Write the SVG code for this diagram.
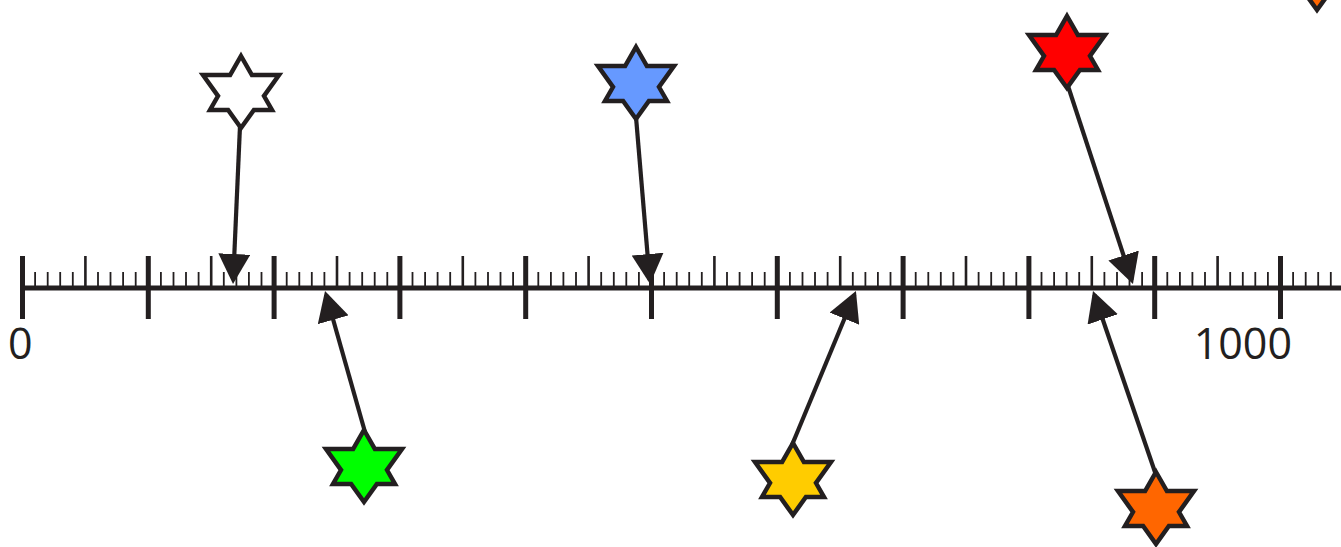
<svg xmlns="http://www.w3.org/2000/svg" xmlns:xlink="http://www.w3.org/1999/xlink" width="1341" height="547" viewBox="0 0 1341 547">
<style>
.star{stroke:#231f20;stroke-width:4.5;stroke-linejoin:miter;stroke-miterlimit:10}
.conn{stroke:#231f20;stroke-width:4.2;fill:none;marker-end:url(#ah)}
.axis{stroke:#231f20;fill:none}
.lbl{font-family:"Open Sans","Liberation Sans",sans-serif;font-size:43px;fill:#231f20}
</style>
<defs>
<path id="star" d="M0,-36 L10.9,-17 L38,-17 L23,4 L31,18 L12.9,18 L0,36 L-12.9,18 L-31,18 L-23,4 L-38,-17 L-10.9,-17 Z"/>
<marker id="ah" viewBox="0 0 30 32" refX="26" refY="16" markerWidth="30" markerHeight="32" markerUnits="userSpaceOnUse" orient="auto">
<path d="M0,0 L30,16 L0,32 Z" fill="#231f20"/>
</marker>
</defs>
<g id="axis">
<line class="axis" x1="20" y1="288" x2="1341" y2="288" stroke-width="5"/>
<path class="axis" stroke-width="5" d="M22.5,256V319M148.3,256V319M274.1,256V319M399.9,256V319M525.7,256V319M651.5,256V319M777.3,256V319M903.1,256V319M1028.9,256V319M1154.7,256V319M1280.5,256V319"/>
<path class="axis" stroke-width="2.6" d="M85.4,256V288M211.2,256V288M337,256V288M462.8,256V288M588.6,256V288M714.4,256V288M840.2,256V288M966,256V288M1091.8,256V288M1217.6,256V288"/>
<path class="axis" stroke-width="1.8" d="M35.1,272V288M47.7,272V288M60.2,272V288M72.8,272V288M98,272V288M110.5,272V288M123.1,272V288M135.7,272V288M160.9,272V288M173.5,272V288M186,272V288M198.6,272V288M223.8,272V288M236.4,272V288M248.9,272V288M261.5,272V288M286.7,272V288M299.3,272V288M311.8,272V288M324.4,272V288M349.6,272V288M362.2,272V288M374.7,272V288M387.3,272V288M412.5,272V288M425.1,272V288M437.6,272V288M450.2,272V288M475.4,272V288M488,272V288M500.5,272V288M513.1,272V288M538.3,272V288M550.9,272V288M563.4,272V288M576,272V288M601.2,272V288M613.8,272V288M626.3,272V288M638.9,272V288M664.1,272V288M676.7,272V288M689.2,272V288M701.8,272V288M727,272V288M739.6,272V288M752.1,272V288M764.7,272V288M789.9,272V288M802.5,272V288M815,272V288M827.6,272V288M852.8,272V288M865.4,272V288M877.9,272V288M890.5,272V288M915.7,272V288M928.3,272V288M940.8,272V288M953.4,272V288M978.6,272V288M991.2,272V288M1003.7,272V288M1016.3,272V288M1041.5,272V288M1054.1,272V288M1066.6,272V288M1079.2,272V288M1104.4,272V288M1117,272V288M1129.5,272V288M1142.1,272V288M1167.3,272V288M1179.9,272V288M1192.4,272V288M1205,272V288M1230.2,272V288M1242.8,272V288M1255.3,272V288M1267.9,272V288M1293.1,272V288M1305.7,272V288M1318.2,272V288M1330.8,272V288"/>
<text class="lbl" x="8" y="359">0</text>
<text class="lbl" x="1292" y="359" text-anchor="end">1000</text>
</g>
<g id="connectors">
<line class="conn" x1="240" y1="126" x2="233.2" y2="280"/>
<line class="conn" x1="636" y1="117" x2="649.7" y2="280"/>
<line class="conn" x1="1068" y1="86" x2="1131.7" y2="280.2"/>
<line class="conn" x1="365" y1="432" x2="326.1" y2="294.8"/>
<line class="conn" x1="792" y1="445" x2="854.4" y2="294.7"/>
<line class="conn" x1="1156" y1="475" x2="1094.3" y2="294.8"/>
</g>
<g id="star-white"><use xlink:href="#star" class="star" x="241" y="92" fill="#ffffff"/></g>
<g id="star-blue"><use xlink:href="#star" class="star" x="636" y="83" fill="#6699ff"/></g>
<g id="star-red"><use xlink:href="#star" class="star" x="1067" y="52" fill="#ff0000"/></g>
<g id="star-green"><use xlink:href="#star" class="star" x="364" y="466" fill="#00ff00"/></g>
<g id="star-yellow"><use xlink:href="#star" class="star" x="793" y="479" fill="#ffcc00"/></g>
<g id="star-orange"><use xlink:href="#star" class="star" x="1156" y="508" fill="#ff6600"/></g>
<g id="star-offscreen"><use xlink:href="#star" class="star" x="1317" y="-26" fill="#ff6600"/></g>
</svg>
